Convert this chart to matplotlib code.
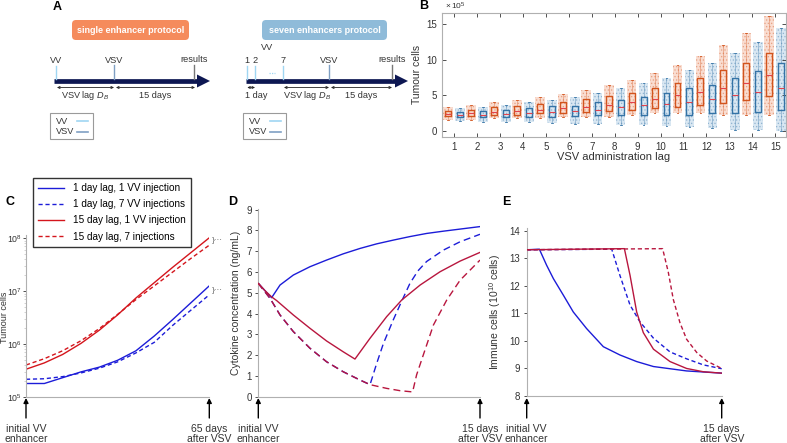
import matplotlib
matplotlib.use('Agg')
import matplotlib.pyplot as plt
from matplotlib.patches import FancyBboxPatch, Rectangle, Polygon
from matplotlib.lines import Line2D
import numpy as np

plt.rcParams['font.family'] = ['Liberation Sans', 'DejaVu Sans']
plt.rcParams['mathtext.fontset'] = 'custom'
plt.rcParams['mathtext.rm'] = 'Liberation Sans'
plt.rcParams['mathtext.it'] = 'Liberation Sans:italic'
plt.rcParams['hatch.linewidth'] = 0.6

# ---------------- data ----------------
# Panel B: tumour cells (x 10^5) per VSV administration lag
lags = list(range(1, 16))
single_lo = [1.6, 1.6, 1.8, 1.8, 1.8, 1.9, 2.0, 2.0, 2.2, 2.5, 2.5, 2.5, 2.2, 2.2, 2.2]
single_q1 = [2.1, 2.1, 2.3, 2.3, 2.5, 2.5, 2.6, 2.8, 2.9, 3.2, 3.4, 3.6, 3.9, 4.3, 4.9]
single_med = [2.45, 2.5, 2.7, 2.8, 3.0, 3.2, 3.4, 3.7, 4.0, 4.5, 5.0, 5.5, 6.0, 6.8, 7.8]
single_q3 = [2.8, 2.9, 3.3, 3.5, 3.8, 4.0, 4.5, 4.9, 5.4, 6.0, 6.8, 7.5, 8.5, 9.6, 11.0]
single_hi = [3.3, 3.6, 4.0, 4.4, 4.8, 5.2, 5.8, 6.4, 7.2, 8.1, 9.2, 10.5, 12.0, 13.8, 16.1]
seven_lo = [1.45, 1.3, 1.3, 1.2, 1.1, 1.0, 1.0, 0.8, 0.8, 0.7, 0.6, 0.4, 0.2, 0.1, 0.0]
seven_q1 = [1.9, 1.9, 1.9, 1.9, 2.0, 2.1, 2.2, 2.2, 2.2, 2.3, 2.3, 2.5, 2.5, 2.7, 2.9]
seven_med = [2.2, 2.3, 2.4, 2.5, 2.7, 2.8, 3.0, 3.3, 3.6, 3.8, 4.1, 4.5, 5.0, 5.5, 6.1]
seven_q3 = [2.6, 2.8, 2.9, 3.2, 3.5, 3.5, 4.0, 4.4, 4.8, 5.3, 6.0, 6.5, 7.4, 8.4, 9.5]
seven_hi = [3.2, 3.4, 3.6, 4.1, 4.4, 4.8, 5.3, 6.0, 6.7, 7.5, 8.5, 9.6, 11.0, 12.5, 14.4]

# Panel C: log10(tumour cells) vs normalised time
c_t = [0, 0.1, 0.2, 0.3, 0.4, 0.5, 0.6, 0.7, 0.8, 0.9, 1.0]
c_blue_solid = [5.25, 5.25, 5.36, 5.47, 5.56, 5.69, 5.87, 6.15, 6.46, 6.78, 7.10]
c_blue_dash = [5.33, 5.34, 5.38, 5.45, 5.54, 5.66, 5.83, 6.03, 6.35, 6.64, 6.93]
c_red_solid = [5.52, 5.64, 5.80, 6.01, 6.26, 6.55, 6.87, 7.16, 7.45, 7.73, 8.01]
c_red_dash = [5.60, 5.72, 5.87, 6.06, 6.29, 6.56, 6.84, 7.10, 7.36, 7.62, 7.87]

# Panel D: cytokine concentration (ng/mL)
d_blue_solid_t = [0, 0.03, 0.06, 0.098, 0.158, 0.233, 0.308, 0.383, 0.459, 0.534, 0.609, 0.684, 0.759, 0.835, 0.91, 1.0]
d_blue_solid = [5.45, 5.1, 4.76, 5.37, 5.85, 6.25, 6.57, 6.87, 7.13, 7.35, 7.53, 7.70, 7.85, 7.96, 8.06, 8.18]
d_red_solid_t = [0, 0.03, 0.06, 0.083, 0.158, 0.233, 0.308, 0.383, 0.436, 0.504, 0.579, 0.647, 0.73, 0.82, 0.91, 1.0]
d_red_solid = [5.45, 5.1, 4.8, 4.62, 3.93, 3.29, 2.68, 2.16, 1.81, 2.81, 3.85, 4.65, 5.37, 6.01, 6.52, 6.94]
d_blue_dash_t = [0, 0.053, 0.098, 0.158, 0.233, 0.308, 0.383, 0.459, 0.504, 0.534, 0.564, 0.609, 0.647, 0.684, 0.72, 0.759, 0.835, 0.91, 1.0]
d_blue_dash = [5.45, 4.73, 3.93, 3.13, 2.33, 1.68, 1.2, 0.8, 0.58, 1.6, 2.55, 3.7, 4.6, 5.45, 6.05, 6.5, 7.05, 7.45, 7.81]
d_red_dash_t = [0, 0.053, 0.098, 0.158, 0.233, 0.308, 0.383, 0.459, 0.504, 0.579, 0.639, 0.696, 0.714, 0.744, 0.79, 0.85, 0.91, 1.0]
d_red_dash = [5.45, 4.73, 3.93, 3.13, 2.33, 1.68, 1.2, 0.8, 0.58, 0.40, 0.29, 0.23, 1.05, 2.0, 3.45, 4.65, 5.6, 6.57]

# Panel E: immune cells (10^10 cells)
e_blue_solid_t = [0, 0.065, 0.102, 0.137, 0.188, 0.239, 0.307, 0.393, 0.478, 0.564, 0.65, 0.82, 1.0]
e_blue_solid = [13.31, 13.33, 12.75, 12.26, 11.66, 11.05, 10.45, 9.79, 9.49, 9.25, 9.07, 8.91, 8.83]
e_red_solid_t = [0, 0.501, 0.53, 0.564, 0.598, 0.65, 0.735, 0.82, 0.906, 1.0]
e_red_solid = [13.31, 13.35, 12.38, 11.05, 10.3, 9.7, 9.25, 9.0, 8.88, 8.83]
e_blue_dash_t = [0, 0.436, 0.478, 0.53, 0.58, 0.65, 0.735, 0.82, 0.906, 1.0]
e_blue_dash = [13.31, 13.33, 12.38, 11.3, 10.7, 10.1, 9.6, 9.35, 9.13, 8.99]
e_red_dash_t = [0, 0.697, 0.726, 0.752, 0.786, 0.82, 0.872, 0.923, 1.0]
e_red_dash = [13.31, 13.35, 12.5, 11.5, 10.66, 10.06, 9.58, 9.27, 9.0]

legend_labels = ['1 day lag, 1 VV injection', '1 day lag, 7 VV injections',
                 '15 day lag, 1 VV injection', '15 day lag, 7 injections']

# ---------------- figure ----------------
W, H = 787, 443
fig = plt.figure(figsize=(W / 100, H / 100), dpi=100)


def pax(x0, y0, x1, y1, **kw):
    return fig.add_axes([x0 / W, 1 - y1 / H, (x1 - x0) / W, (y1 - y0) / H], **kw)


BLUE = '#1c1cd8'
RED_C = '#d4151c'
RED = '#b8163e'
SPINE = '#b0b0b0'
TXT = '#333333'

# overlay in pixel coordinates
ov = pax(0, 0, W, H)
ov.set_xlim(0, W)
ov.set_ylim(H, 0)
ov.axis('off')
ov.patch.set_alpha(0)

# panel letters
for lab, (x, y) in {'A': (57, 7), 'B': (424, 6), 'C': (10, 202), 'D': (233, 202), 'E': (506, 202)}.items():
    ov.text(x, y, lab, fontsize=9, fontweight='bold', ha='center', va='center')

# ---- Panel A ----
NAVY = '#0d1752'
VVC = '#9fd6f2'
VSVC = '#7f9fc3'
AF = 6.6


def pill(x0, x1, y0, y1, color, text):
    ov.add_patch(FancyBboxPatch((x0, y0), x1 - x0, y1 - y0,
                                boxstyle='round,pad=0,rounding_size=4', fc=color, ec='none'))
    ov.text((x0 + x1) / 2, (y0 + y1) / 2 + 0.5, text, color='white', fontsize=6.5,
            fontweight='bold', ha='center', va='center')


def timeline(x0, x1):
    ov.plot([x0, x1 - 12], [81, 81], color=NAVY, lw=3.4, solid_capstyle='butt')
    ov.add_patch(Polygon([[x1 - 13, 74.5], [x1, 81], [x1 - 13, 87.5]], closed=True, fc=NAVY, ec='none'))


def mark(x, color, y0=66, lw=1.0):
    ov.plot([x, x], [y0, 79], color=color, lw=lw)


def span(x0, x1, text, tx=None):
    ov.annotate('', xy=(x1, 87.5), xytext=(x0, 87.5),
                arrowprops=dict(arrowstyle='<->', lw=0.6, color='#222222', mutation_scale=4,
                                shrinkA=0, shrinkB=0))
    ov.text((x0 + x1) / 2 if tx is None else tx, 95.5, text, fontsize=AF, ha='center', va='center', color=TXT)


def small_legend(x0):
    ov.add_patch(Rectangle((x0, 113), 43, 26, fc='white', ec='#9a9a9a', lw=0.8))
    ov.text(x0 + 6, 121, 'VV', fontsize=AF, va='center', color=TXT)
    ov.text(x0 + 6, 132, 'VSV', fontsize=AF, va='center', color=TXT)
    ov.plot([x0 + 27, x0 + 38], [121, 121], color=VVC, lw=1.2)
    ov.plot([x0 + 27, x0 + 38], [132, 132], color=VSVC, lw=1.2)


pill(72, 189, 20, 40, '#f58b5c', 'single enhancer protocol')
timeline(54, 210)
mark(56, VVC)
mark(114, VSVC, 65)
mark(194, '#777777', 65)
ov.text(56, 60, 'VV', fontsize=AF, ha='center', va='center', color=TXT)
ov.text(114, 60, 'VSV', fontsize=AF, ha='center', va='center', color=TXT)
ov.text(194, 59, 'results', fontsize=AF, ha='center', va='center', color=TXT)
span(57, 114, r'VSV lag $D_B$', tx=85)
span(116, 195, '15 days')
small_legend(50)

pill(262, 387, 20, 40, '#8fbbd9', 'seven enhancers protocol')
timeline(246, 408)
for xv, lab in [(247.3, '1'), (255, '2'), (283.3, '7')]:
    mark(xv, VVC)
    ov.text(xv, 60, lab, fontsize=AF, ha='center', va='center', color=TXT)
ov.text(267, 47.5, 'VV', fontsize=AF, ha='center', va='center', color=TXT)
ov.plot([269, 275], [72.5, 72.5], color=VVC, lw=0.9, ls=(0, (1, 1)))
mark(329.3, VSVC, 65)
mark(391.7, '#777777', 65)
ov.text(329.3, 60, 'VSV', fontsize=AF, ha='center', va='center', color=TXT)
ov.text(391.7, 59, 'results', fontsize=AF, ha='center', va='center', color=TXT)
span(247.3, 255, '1 day', tx=256)
span(284, 329, r'VSV lag $D_B$', tx=307)
span(331, 392, '15 days')
small_legend(243)

# ---- Panel B ----
axB = pax(441.7, 12.7, 786, 136.7)
OR_EDGE = '#d2541d'
OR_FILL = '#f0a07c'
BL_EDGE = '#3473a6'
BL_FILL = '#93bbdb'
MED = '#e2424c'
pos_s = [k - 0.26 for k in lags]
pos_v = [k + 0.26 for k in lags]
lo_s, hi_s = np.array(single_lo), np.array(single_hi)
lo_v, hi_v = np.array(seven_lo), np.array(seven_hi)
axB.bar(pos_s, hi_s - lo_s, bottom=lo_s, width=0.42, color=OR_FILL, alpha=0.35,
        edgecolor=OR_EDGE, hatch='.....', linewidth=0, zorder=1)
axB.bar(pos_v, hi_v - lo_v, bottom=lo_v, width=0.42, color=BL_FILL, alpha=0.35,
        edgecolor=BL_EDGE, hatch='.....', linewidth=0, zorder=1)


def stats(lo, q1, med, q3, hi):
    return [dict(whislo=a, q1=b, med=c, q3=d, whishi=e) for a, b, c, d, e in zip(lo, q1, med, q3, hi)]


for st, pos, ec in [(stats(single_lo, single_q1, single_med, single_q3, single_hi), pos_s, OR_EDGE),
                    (stats(seven_lo, seven_q1, seven_med, seven_q3, seven_hi), pos_v, BL_EDGE)]:
    axB.bxp(st, positions=pos, widths=0.26, showfliers=False, manage_ticks=False,
            boxprops=dict(color=ec, lw=1.0), whiskerprops=dict(color=ec, lw=0.5, alpha=0.5),
            capprops=dict(color=ec, lw=0.6), medianprops=dict(color=MED, lw=0.8),
            capwidths=0.08)

axB.set_xlim(0.46, 15.47)
axB.set_ylim(-0.8, 16.6)
axB.set_xticks(lags)
axB.set_yticks([0, 5, 10, 15])
axB.tick_params(direction='in', top=True, right=True, labelsize=7, colors=TXT, length=3, width=0.6)
for s in axB.spines.values():
    s.set_color(SPINE)
    s.set_linewidth(0.8)
axB.set_xlabel('VSV administration lag', fontsize=8, color=TXT, labelpad=0)
axB.set_ylabel('Tumour cells', fontsize=7.5, color=TXT, labelpad=3)
axB.text(0.01, 1.005, r'$\times\,10^5$', transform=axB.transAxes, fontsize=6, color=TXT, va='bottom')


def style_line_axes(ax):
    ax.spines['top'].set_visible(False)
    ax.spines['right'].set_visible(False)
    for s in ['left', 'bottom']:
        ax.spines[s].set_color(SPINE)
        ax.spines[s].set_linewidth(0.8)
    ax.set_xticks([])
    ax.tick_params(axis='y', labelsize=7, colors=TXT, length=2.5, width=0.6, direction='out', pad=2)
    ax.tick_params(axis='y', which='minor', length=1.5, width=0.4, colors=SPINE)
    ax.set_xlim(0, 1)


# ---- Panel C ----
axC = pax(26, 235, 209.3, 396.7)
style_line_axes(axC)
axC.set_yscale('log')
axC.plot(c_t, 10 ** np.array(c_blue_solid), color=BLUE, lw=1.0)
axC.plot(c_t, 10 ** np.array(c_blue_dash), color=BLUE, lw=1.0, ls=(0, (3, 2)))
axC.plot(c_t, 10 ** np.array(c_red_solid), color=RED_C, lw=1.0)
axC.plot(c_t, 10 ** np.array(c_red_dash), color=RED_C, lw=1.0, ls=(0, (3, 2)))
axC.set_ylim(1e5, 10 ** (8 + 3.3 / 52.8))
axC.set_yticks([1e5, 1e6, 1e7, 1e8])
axC.tick_params(axis='y', labelsize=6.3, colors=TXT, pad=1, length=2)
axC.tick_params(axis='y', which='minor', colors=SPINE)
axC.set_ylabel('Tumour cells', fontsize=6.5, color=TXT, va='center')
axC.yaxis.set_label_coords((4.5 - 26) / 183.3, 0.49)
for ypx in (240, 291):
    ov.text(212, ypx, '}···', fontsize=6, va='center', ha='left', color='#555555')

handles = [Line2D([], [], color=BLUE, lw=1.0), Line2D([], [], color=BLUE, lw=1.0, ls=(0, (3, 2))),
           Line2D([], [], color=RED_C, lw=1.0), Line2D([], [], color=RED_C, lw=1.0, ls=(0, (3, 2)))]
leg = axC.legend(handles, legend_labels, loc='upper left', bbox_to_anchor=(33 / W, 1 - 178 / H),
                 bbox_transform=fig.transFigure, fontsize=7.2, frameon=True, fancybox=False,
                 edgecolor='black', handlelength=2.6, borderpad=0.5, labelspacing=0.62,
                 handletextpad=0.9, borderaxespad=0)
leg.get_frame().set_linewidth(1.0)
leg.set_zorder(20)

# ---- Panel D ----
axD = pax(258.3, 208.5, 480, 396.7)
style_line_axes(axD)
axD.plot(d_blue_solid_t, d_blue_solid, color=BLUE, lw=1.0, zorder=2)
axD.plot(d_red_solid_t, d_red_solid, color=RED, lw=1.0, zorder=3)
axD.plot(d_blue_dash_t, d_blue_dash, color=BLUE, lw=1.0, ls=(0, (5, 3)), zorder=2)
axD.plot(d_red_dash_t, d_red_dash, color=RED, lw=1.0, ls=(0, (5, 3)), zorder=3)
axD.set_ylim(0, 9.05)
axD.set_yticks(range(0, 10))
axD.set_ylabel('Cytokine concentration (ng/mL)', fontsize=7.5, color=TXT, labelpad=4)

# ---- Panel E ----
axE = pax(526.7, 228, 721.7, 396)
style_line_axes(axE)
axE.plot(e_blue_solid_t, e_blue_solid, color=BLUE, lw=1.0, zorder=2)
axE.plot(e_blue_dash_t, e_blue_dash, color=BLUE, lw=1.0, ls=(0, (3, 2)), zorder=2)
axE.plot(e_red_solid_t, e_red_solid, color=RED, lw=1.0, zorder=3)
axE.plot(e_red_dash_t, e_red_dash, color=RED, lw=1.0, ls=(0, (3, 2)), zorder=3)
axE.set_ylim(8, 14.1)
axE.set_yticks(range(8, 15))
axE.set_ylabel(r'Immune cells (10$^{10}$ cells)', fontsize=7.5, color=TXT, labelpad=5)

# arrows under C, D, E
for xl, xr, rlab in [(26, 209.3, '65 days\nafter VSV'), (258.3, 480, '15 days\nafter VSV'),
                     (526.7, 721.7, '15 days\nafter VSV')]:
    for xx, lab in [(xl, 'initial VV\nenhancer'), (xr, rlab)]:
        ov.annotate('', xy=(xx, 398), xytext=(xx, 418),
                    arrowprops=dict(arrowstyle='-|>', lw=1.0, color='black', mutation_scale=7,
                                    shrinkA=0, shrinkB=0))
        ov.text(xx, 434, lab, fontsize=7.5, ha='center', va='center', linespacing=1.05, color=TXT)

fig.savefig('out.png', dpi=100)
